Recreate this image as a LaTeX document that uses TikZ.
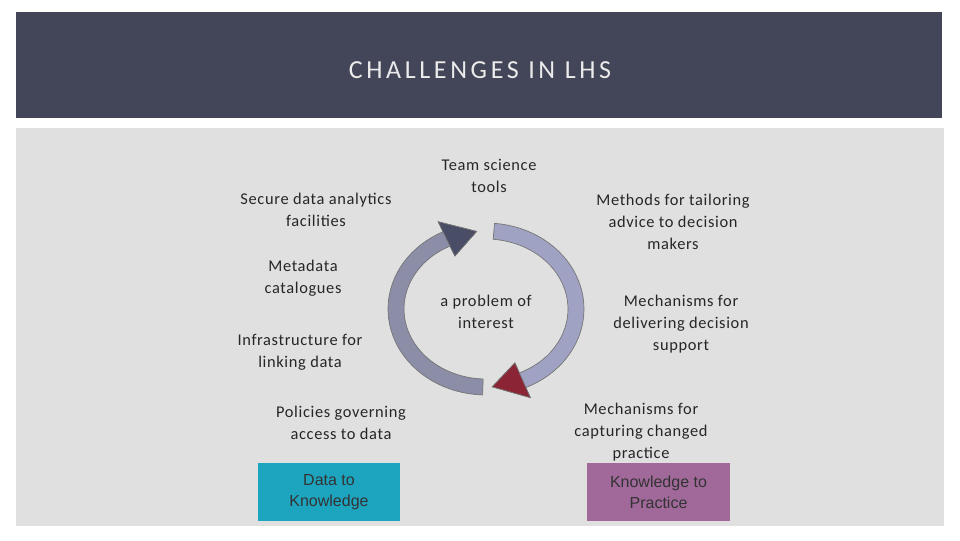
\documentclass[tikz,border=0pt]{standalone}
\usepackage{fontspec}
\setmainfont{Carlito}
\newfontfamily\arialf{Liberation Sans}
\begin{document}
\begin{tikzpicture}[x=0.75pt,y=-0.75pt,
  lbl/.style={align=center,font=\fontsize{12.3}{16.5}\selectfont\addfontfeature{LetterSpace=4},text=black!85},
  boxn/.style={minimum width=107pt,minimum height=44pt,font=\arialf\fontsize{12}{15.5}\selectfont,align=center,text=black!80,inner sep=0pt},
  band/.style={draw=black!55,line width=0.5pt}]
\useasboundingbox (0,0) rectangle (960,540);
\fill[white] (0,0) rectangle (960,540);
\fill[fill={rgb,255:red,67;green,69;blue,88}] (16,12) rectangle (942,118);
\fill[fill={rgb,255:red,224;green,224;blue,224}] (16,128) rectangle (944,526);
\node (title) at (480,70) {\fontsize{19.5}{22}\selectfont\addfontfeature{LetterSpace=14}\color{white!92!black}CHALLENGES IN LHS};
\def\cx{486}\def\cy{309}\def\rx{90}\def\ry{78}
% left arrow
\filldraw[band,fill={rgb,255:red,140;green,142;blue,168}]
  plot[domain=268:116,samples=40] ({\cx+(\rx+8)*cos(\x)},{\cy-(\ry+8)*sin(\x)})
  -- ({\cx+(\rx+19)*cos(116)},{\cy-(\ry+19)*sin(116)})
  -- ({\cx+\rx*cos(96)},{\cy-\ry*sin(96)})
  -- ({\cx+(\rx-19)*cos(116)},{\cy-(\ry-19)*sin(116)})
  -- plot[domain=116:268,samples=40] ({\cx+(\rx-8)*cos(\x)},{\cy-(\ry-8)*sin(\x)}) -- cycle;
\filldraw[band,fill={rgb,255:red,74;green,77;blue,102}]
  ({\cx+(\rx+19)*cos(116)},{\cy-(\ry+19)*sin(116)})
  -- ({\cx+\rx*cos(96)},{\cy-\ry*sin(96)})
  -- ({\cx+(\rx-19)*cos(116)},{\cy-(\ry-19)*sin(116)}) -- cycle;
% right arrow
\filldraw[band,fill={rgb,255:red,160;green,162;blue,195}]
  plot[domain=85:-66,samples=40] ({\cx+(\rx+8)*cos(\x)},{\cy-(\ry+8)*sin(\x)})
  -- ({\cx+(\rx+19)*cos(-66)},{\cy-(\ry+19)*sin(-66)})
  -- ({\cx+\rx*cos(-86)},{\cy-\ry*sin(-86)})
  -- ({\cx+(\rx-19)*cos(-66)},{\cy-(\ry-19)*sin(-66)})
  -- plot[domain=-66:85,samples=40] ({\cx+(\rx-8)*cos(\x)},{\cy-(\ry-8)*sin(\x)}) -- cycle;
\filldraw[band,fill={rgb,255:red,139;green,37;blue,53}]
  ({\cx+(\rx+19)*cos(-66)},{\cy-(\ry+19)*sin(-66)})
  -- ({\cx+\rx*cos(-86)},{\cy-\ry*sin(-86)})
  -- ({\cx+(\rx-19)*cos(-66)},{\cy-(\ry-19)*sin(-66)}) -- cycle;
\node[lbl] (sec) at (316,210) {Secure data analytics\\facilities};
\node[lbl] (meta) at (303,278) {Metadata\\catalogues};
\node[lbl] (infra) at (300,352) {Infrastructure for\\linking data};
\node[lbl] (pol) at (341,423) {Policies governing\\access to data};
\node[lbl] (team) at (489,176) {Team science\\tools};
\node[lbl] (prob) at (486,312) {a problem of\\interest};
\node[lbl] (meth) at (673,222) {Methods for tailoring\\advice to decision\\makers};
\node[lbl] (deliv) at (681,324) {Mechanisms for\\delivering decision\\support};
\node[lbl] (capt) at (641,432) {Mechanisms for\\capturing changed\\practice};
\node[boxn,fill={rgb,255:red,29;green,165;blue,192}] (d2k) at (329,492) {Data to\\Knowledge};
\node[boxn,fill={rgb,255:red,160;green,105;blue,154}] (k2p) at (658.5,492) {Knowledge to\\Practice};
\end{tikzpicture}
\end{document}
